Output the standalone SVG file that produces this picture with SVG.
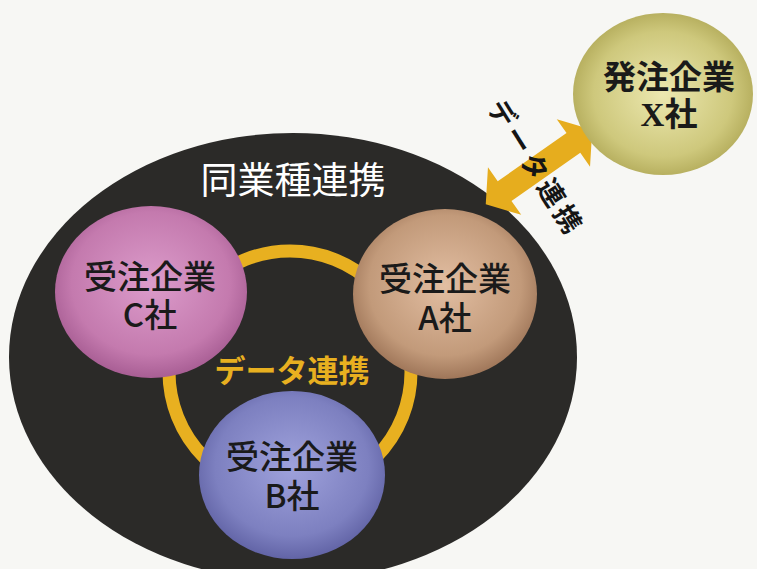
<svg xmlns="http://www.w3.org/2000/svg" width="757" height="569" viewBox="0 0 757 569">
  <style>
    .jp { font-family: "Noto Sans CJK JP", "Noto Sans", sans-serif; }
    .node { font-size: 33px; fill: #1a1a1a; text-anchor: middle; font-weight: 500; }
    .title { font-size: 37px; fill: #ffffff; text-anchor: middle; }
    .link { font-size: 31px; fill: #e8b020; text-anchor: middle; font-weight: 700; }
    .link2 { font-size: 27px; fill: #151515; text-anchor: middle; font-weight: 700; letter-spacing: 4px; }
  </style>
  <defs>
    <radialGradient id="gC" cx="50%" cy="45%" r="55%">
      <stop offset="0" stop-color="#dc9ccb"/>
      <stop offset="0.75" stop-color="#c47aae"/>
      <stop offset="1" stop-color="#a85e94"/>
    </radialGradient>
    <radialGradient id="gA" cx="50%" cy="45%" r="55%">
      <stop offset="0" stop-color="#e2bea2"/>
      <stop offset="0.75" stop-color="#c29a7a"/>
      <stop offset="1" stop-color="#9f7659"/>
    </radialGradient>
    <radialGradient id="gB" cx="50%" cy="45%" r="55%">
      <stop offset="0" stop-color="#9fa2dc"/>
      <stop offset="0.75" stop-color="#7d80c0"/>
      <stop offset="1" stop-color="#6264a6"/>
    </radialGradient>
    <radialGradient id="gX" cx="50%" cy="50%" r="55%">
      <stop offset="0" stop-color="#ece8b0"/>
      <stop offset="0.7" stop-color="#cec87c"/>
      <stop offset="1" stop-color="#aea654"/>
    </radialGradient>
  </defs>

  <rect width="757" height="569" fill="#f7f7f4"/>

  <g id="group-bg">
    <ellipse cx="293" cy="357" rx="284" ry="224" fill="#2b2a28"/>
    <text class="jp title" x="293" y="194">同業種連携</text>
  </g>

  <g id="connectors">
    <circle cx="290" cy="372" r="121" fill="none" stroke="#e8b020" stroke-width="13"/>
    <text class="jp link" x="292" y="382">データ連携</text>
    <g transform="translate(539,167) rotate(-35)">
      <polygon points="-65,0 -42,-29 -42,-12 42,-12 42,-29 65,0 42,29 42,12 -42,12 -42,29" fill="#e6ad1e"/>
    </g>
    <text class="jp link2" transform="translate(536,168) rotate(58)" x="0" y="10">データ連携</text>
  </g>

  <g id="node-c">
    <ellipse cx="151" cy="292" rx="96" ry="86" fill="url(#gC)"/>
    <text class="jp node" x="150" y="289">受注企業<tspan x="150" dy="38">C社</tspan></text>
  </g>

  <g id="node-a">
    <ellipse cx="445" cy="294" rx="92" ry="85" fill="url(#gA)"/>
    <text class="jp node" x="445" y="291">受注企業<tspan x="445" dy="39">A社</tspan></text>
  </g>

  <g id="node-b">
    <ellipse cx="292" cy="475" rx="93" ry="84" fill="url(#gB)"/>
    <text class="jp node" x="292" y="469">受注企業<tspan x="292" dy="39">B社</tspan></text>
  </g>

  <g id="node-x">
    <ellipse cx="663" cy="94" rx="90" ry="81" fill="url(#gX)"/>
    <text class="jp node" x="669" y="89" style="font-weight:700">発注企業<tspan x="669" dy="37"><tspan font-family="Liberation Serif, serif">X</tspan>社</tspan></text>
  </g>
</svg>
